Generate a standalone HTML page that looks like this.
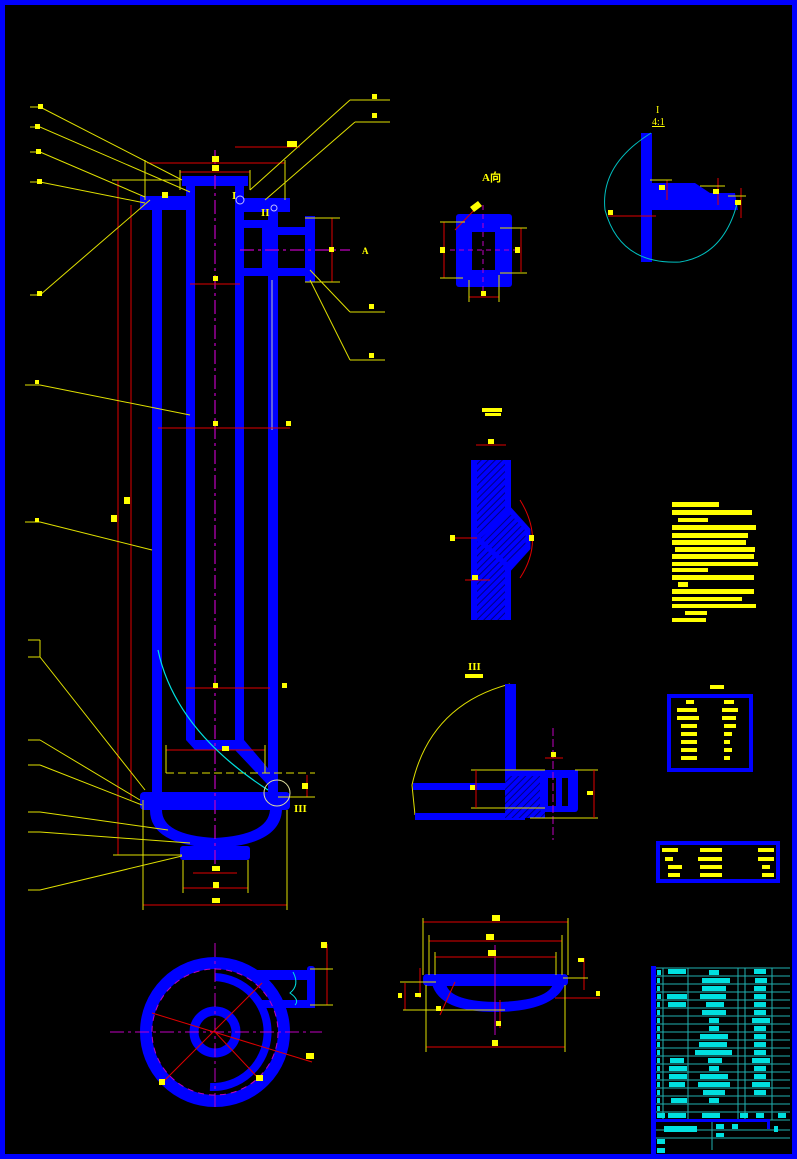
<!DOCTYPE html>
<html><head><meta charset="utf-8"><style>
html,body{margin:0;padding:0;background:#000;}
svg{display:block;}
</style></head><body>
<svg width="797" height="1159" viewBox="0 0 797 1159" xmlns="http://www.w3.org/2000/svg" font-family="Liberation Serif, serif">
<defs>
<pattern id="h" width="5" height="5" patternUnits="userSpaceOnUse" patternTransform="rotate(45)">
<rect width="5" height="5" fill="#0000ff"/><line x1="0" y1="0" x2="0" y2="5" stroke="#000080" stroke-width="2"/></pattern>
</defs>
<rect width="797" height="1159" fill="#000"/>
<rect x="2.5" y="2.5" width="792" height="1154" fill="none" stroke="#0000ff" stroke-width="5"/>

<!-- ===== MAIN VESSEL ===== -->
<g fill="#0000ff">
<!-- outer shell -->
<rect x="152" y="205" width="10" height="590"/>
<rect x="268" y="205" width="10" height="590"/>
<!-- inner tube -->
<rect x="186" y="180" width="9" height="560"/>
<rect x="235" y="180" width="9" height="560"/>
<!-- top cap -->
<rect x="182" y="176" width="66" height="10"/>
<rect x="140" y="196" width="50" height="14"/>
<rect x="240" y="198" width="50" height="14"/>
<!-- side nozzle -->
<rect x="244" y="220" width="26" height="8"/>
<rect x="244" y="268" width="26" height="8"/>
<rect x="262" y="220" width="8" height="56"/>
<rect x="278" y="227" width="36" height="8"/>
<rect x="278" y="268" width="36" height="8"/>
<rect x="305" y="216" width="10" height="66"/>
<!-- bottom cone -->
<polygon points="186,740 244,740 278,780 268,785 235,750 195,750"/>
<!-- bottom flange -->
<rect x="140" y="792" width="150" height="18" rx="4"/>
<path d="M150,810 Q150,845 215,848 Q280,845 282,810 L270,810 Q268,835 215,838 Q162,835 162,810 Z"/>
<rect x="180" y="846" width="70" height="14" rx="3"/>
</g>
<!-- center line -->
<line x1="215" y1="150" x2="215" y2="870" stroke="#c000c0" stroke-width="1.2" stroke-dasharray="14,4,3,4"/>
<line x1="240" y1="250" x2="350" y2="250" stroke="#c000c0" stroke-width="1.2" stroke-dasharray="14,4,3,4"/>
<line x1="272" y1="280" x2="272" y2="430" stroke="#c0c0c0" stroke-width="1"/>
<!-- dims red -->
<g stroke="#e00000" stroke-width="1">
<line x1="118" y1="180" x2="118" y2="855"/>
<line x1="131" y1="205" x2="131" y2="800"/>
<line x1="147" y1="163" x2="285" y2="163"/>
<line x1="180" y1="172" x2="250" y2="172"/>
<line x1="235" y1="147" x2="300" y2="147"/>
<line x1="332" y1="218" x2="332" y2="282"/>
<line x1="190" y1="284" x2="240" y2="284"/>
<line x1="158" y1="428" x2="290" y2="428"/>
<line x1="186" y1="688" x2="270" y2="688"/>
<line x1="166" y1="750" x2="265" y2="750"/>
<line x1="307" y1="775" x2="307" y2="797"/>
<line x1="143" y1="905" x2="287" y2="905"/>
<line x1="183" y1="888" x2="248" y2="888"/>
<line x1="193" y1="873" x2="237" y2="873"/>
</g>
<!-- extension & leader lines yellow -->
<g stroke="#e0e000" stroke-width="1" fill="none">
<line x1="145" y1="160" x2="145" y2="200"/><line x1="285" y1="160" x2="285" y2="200"/>
<line x1="180" y1="170" x2="180" y2="190"/><line x1="250" y1="170" x2="250" y2="190"/>
<line x1="112" y1="180" x2="180" y2="180"/>
<line x1="305" y1="218" x2="340" y2="218"/><line x1="305" y1="282" x2="340" y2="282"/>
<line x1="30" y1="107" x2="40" y2="107"/><line x1="40" y1="107" x2="182" y2="180"/>
<line x1="30" y1="127" x2="40" y2="127"/><line x1="40" y1="127" x2="190" y2="192"/>
<line x1="30" y1="152" x2="40" y2="152"/><line x1="40" y1="152" x2="145" y2="197"/>
<line x1="30" y1="182" x2="40" y2="182"/><line x1="40" y1="182" x2="145" y2="203"/>
<line x1="30" y1="295" x2="40" y2="295"/><line x1="40" y1="295" x2="150" y2="200"/>
<line x1="350" y1="100" x2="390" y2="100"/><line x1="350" y1="100" x2="250" y2="190"/>
<line x1="355" y1="122" x2="390" y2="122"/><line x1="355" y1="122" x2="265" y2="200"/>
<line x1="350" y1="312" x2="385" y2="312"/><line x1="350" y1="312" x2="310" y2="270"/>
<line x1="350" y1="360" x2="385" y2="360"/><line x1="350" y1="360" x2="310" y2="280"/>
<line x1="25" y1="385" x2="40" y2="385"/><line x1="40" y1="385" x2="190" y2="415"/>
<line x1="25" y1="522" x2="40" y2="522"/><line x1="40" y1="522" x2="152" y2="550"/>
<line x1="28" y1="640" x2="40" y2="640"/><line x1="28" y1="657" x2="40" y2="657"/><line x1="40" y1="640" x2="40" y2="657"/>
<line x1="40" y1="657" x2="145" y2="790"/>
<line x1="28" y1="740" x2="40" y2="740"/><line x1="40" y1="740" x2="140" y2="800"/>
<line x1="28" y1="765" x2="40" y2="765"/><line x1="40" y1="765" x2="142" y2="805"/>
<line x1="28" y1="812" x2="40" y2="812"/><line x1="40" y1="812" x2="168" y2="830"/>
<line x1="28" y1="832" x2="40" y2="832"/><line x1="40" y1="832" x2="190" y2="843"/>
<line x1="28" y1="890" x2="40" y2="890"/><line x1="40" y1="890" x2="182" y2="856"/>
<line x1="143" y1="800" x2="143" y2="910"/><line x1="287" y1="810" x2="287" y2="910"/>
<line x1="183" y1="860" x2="183" y2="893"/><line x1="248" y1="860" x2="248" y2="893"/>
<line x1="113" y1="855" x2="182" y2="855"/>
<line x1="166" y1="745" x2="166" y2="773"/><line x1="265" y1="745" x2="265" y2="773"/>
<line x1="166" y1="773" x2="315" y2="773" stroke-dasharray="8,4"/>
<line x1="278" y1="797" x2="315" y2="797"/>
</g>
<path d="M158,650 Q175,730 268,790" stroke="#00e0e0" fill="none" stroke-width="1.2"/>
<circle cx="277" cy="793" r="13" stroke="#e0e0a0" fill="none"/>
<circle cx="240" cy="200" r="4" stroke="#c0c0ff" fill="none"/>
<circle cx="274" cy="208" r="3" stroke="#c0c0ff" fill="none"/>
<g fill="#ffff00" font-size="11" font-weight="bold">
<text x="232" y="199">I</text><text x="261" y="216">II</text><text x="294" y="812">III</text>
<text x="362" y="254" font-size="9">A</text>
</g>
<!-- yellow tags -->
<g fill="#ffff00">
<rect x="38" y="104" width="5" height="5"/><rect x="35" y="124" width="5" height="5"/><rect x="36" y="149" width="5" height="5"/>
<rect x="37" y="179" width="5" height="5"/><rect x="37" y="291" width="5" height="5"/><rect x="372" y="94" width="5" height="5"/>
<rect x="372" y="113" width="5" height="5"/><rect x="369" y="304" width="5" height="5"/><rect x="369" y="353" width="5" height="5"/>
<rect x="212" y="156" width="7" height="6"/><rect x="212" y="165" width="7" height="6"/><rect x="287" y="141" width="10" height="6"/>
<rect x="162" y="192" width="6" height="6"/><rect x="329" y="247" width="5" height="5"/><rect x="213" y="276" width="5" height="5"/>
<rect x="213" y="421" width="5" height="5"/><rect x="286" y="421" width="5" height="5"/><rect x="124" y="497" width="6" height="7"/>
<rect x="111" y="515" width="6" height="7"/><rect x="213" y="683" width="5" height="5"/><rect x="282" y="683" width="5" height="5"/>
<rect x="222" y="746" width="7" height="5"/><rect x="302" y="783" width="6" height="6"/><rect x="212" y="866" width="8" height="5"/>
<rect x="213" y="882" width="6" height="6"/><rect x="212" y="898" width="8" height="5"/>
<rect x="35" y="380" width="4" height="4"/><rect x="35" y="518" width="4" height="4"/>
</g>

<!-- ===== CIRCULAR PLAN VIEW ===== -->
<g fill="none" stroke="#0000ff">
<circle cx="215" cy="1032" r="69" stroke-width="12"/>
<path d="M215,977 A55,55 0 1,1 210,1087" stroke-width="8"/>
<circle cx="215" cy="1032" r="21" stroke-width="9"/>
</g>
<g fill="#0000ff">
<rect x="255" y="970" width="60" height="10"/>
<rect x="262" y="1000" width="53" height="8"/>
<rect x="307" y="966" width="8" height="42" rx="3"/>
</g>
<circle cx="215" cy="1032" r="63" fill="none" stroke="#c000c0" stroke-dasharray="6,5"/>
<g stroke="#c000c0" stroke-width="1" stroke-dasharray="14,4,3,4">
<line x1="110" y1="1032" x2="322" y2="1032"/><line x1="215" y1="943" x2="215" y2="1110"/></g>
<g stroke="#e00000"><line x1="152" y1="1013" x2="312" y2="1062"/><line x1="160" y1="1085" x2="262" y2="983"/>
<line x1="215" y1="1032" x2="260" y2="1080"/><line x1="327" y1="944" x2="327" y2="1005"/></g>
<path d="M293,972 Q300,985 290,993 Q300,1000 295,1005" stroke="#00e0e0" fill="none"/>
<g stroke="#e0e000"><line x1="310" y1="969" x2="333" y2="969"/><line x1="310" y1="1005" x2="333" y2="1005"/></g>
<g fill="#ffff00"><rect x="321" y="942" width="6" height="6"/><rect x="306" y="1053" width="8" height="6"/>
<rect x="159" y="1079" width="6" height="6"/><rect x="256" y="1075" width="7" height="6"/></g>

<!-- ===== DETAIL A (top middle) ===== -->
<text x="482" y="181" fill="#ffff00" font-size="11" font-weight="bold">A向</text>
<rect x="456" y="214" width="56" height="73" rx="3" fill="#0000ff"/>
<rect x="472" y="232" width="23" height="38" fill="#000"/>
<g stroke="#c000c0" stroke-dasharray="5,4"><line x1="483" y1="205" x2="483" y2="295"/><line x1="450" y1="250" x2="516" y2="250"/></g>
<g stroke="#e00000"><line x1="444" y1="222" x2="444" y2="278"/><line x1="521" y1="228" x2="521" y2="272"/>
<line x1="469" y1="297" x2="499" y2="297"/><line x1="455" y1="230" x2="480" y2="204"/></g>
<g stroke="#e0e000"><line x1="440" y1="222" x2="465" y2="222"/><line x1="440" y1="278" x2="463" y2="278"/>
<line x1="500" y1="228" x2="527" y2="228"/><line x1="500" y1="273" x2="527" y2="273"/><line x1="469" y1="280" x2="469" y2="302"/><line x1="499" y1="275" x2="499" y2="302"/></g>
<g fill="#ffff00"><rect x="440" y="247" width="5" height="6"/><rect x="515" y="247" width="5" height="6"/><rect x="481" y="291" width="5" height="5"/>
<polygon points="470,207 478,201 482,206 474,212"/></g>

<!-- ===== DETAIL I (top right) ===== -->
<text x="656" y="113" fill="#ffff00" font-size="10">I</text>
<text x="652" y="125" fill="#ffff00" font-size="10" text-decoration="underline">4:1</text>
<rect x="641" y="133" width="11" height="129" fill="#0000ff"/>
<path d="M651,183 L695,183 L710,193 L735,193 L738,210 L651,210 Z" fill="#0000ff"/>
<path d="M651,133 Q600,165 605,210 Q620,265 680,262 Q725,255 738,200" stroke="#00c0c0" fill="none"/>
<g stroke="#e00000"><line x1="608" y1="216" x2="656" y2="216"/><line x1="667" y1="180" x2="667" y2="200"/>
<line x1="718" y1="178" x2="718" y2="205"/><line x1="741" y1="188" x2="741" y2="218"/></g>
<g stroke="#e0e000"><line x1="650" y1="180" x2="672" y2="180"/><line x1="700" y1="186" x2="725" y2="186"/><line x1="728" y1="196" x2="746" y2="196"/></g>
<g fill="#ffff00"><rect x="659" y="185" width="6" height="5"/><rect x="713" y="189" width="6" height="5"/><rect x="735" y="200" width="6" height="5"/><rect x="608" y="210" width="5" height="5"/></g>

<!-- ===== WELD DETAIL (middle) ===== -->
<rect x="482" y="408" width="20" height="4" fill="#ffff00"/><rect x="485" y="413" width="16" height="3" fill="#ffff00"/>
<rect x="471" y="460" width="40" height="160" fill="url(#h)"/>
<rect x="471" y="460" width="6" height="160" fill="#0000ff"/><rect x="505" y="460" width="6" height="160" fill="#0000ff"/>
<polygon points="477,538 510,510 528,530 528,548 510,568" fill="url(#h)" stroke="#0000ff" stroke-width="5"/>
<path d="M520,500 Q545,540 520,578" stroke="#e00000" fill="none"/>
<g stroke="#e00000"><line x1="476" y1="445" x2="506" y2="445"/><line x1="455" y1="538" x2="477" y2="538"/><line x1="465" y1="580" x2="490" y2="580"/></g>
<g fill="#ffff00"><rect x="488" y="439" width="6" height="5"/><rect x="450" y="535" width="5" height="6"/><rect x="529" y="535" width="5" height="6"/><rect x="472" y="575" width="6" height="5"/></g>

<!-- notes -->
<g fill="#ffff00">
<rect x="672" y="502" width="47" height="5"/><rect x="672" y="510" width="80" height="5"/><rect x="678" y="518" width="30" height="4"/>
<rect x="672" y="525" width="84" height="5"/><rect x="672" y="533" width="76" height="5"/><rect x="672" y="540" width="74" height="5"/>
<rect x="675" y="547" width="80" height="5"/><rect x="672" y="554" width="82" height="5"/><rect x="672" y="562" width="86" height="4"/>
<rect x="672" y="568" width="36" height="4"/><rect x="672" y="575" width="82" height="5"/><rect x="678" y="582" width="10" height="5"/>
<rect x="672" y="589" width="82" height="5"/><rect x="672" y="597" width="70" height="4"/><rect x="672" y="604" width="84" height="4"/>
<rect x="685" y="611" width="22" height="4"/><rect x="672" y="618" width="34" height="4"/>
</g>

<!-- ===== DETAIL III ===== -->
<text x="468" y="670" fill="#ffff00" font-size="11" font-weight="bold">III</text>
<rect x="465" y="674" width="18" height="4" fill="#ffff00"/>
<path d="M510,684 Q430,705 412,785 L415,815" stroke="#e0e000" fill="none"/>
<rect x="505" y="684" width="11" height="88" fill="#0000ff"/>
<rect x="413" y="783" width="95" height="7" fill="#0000ff"/>
<rect x="415" y="813" width="110" height="7" fill="#0000ff"/>
<rect x="505" y="770" width="40" height="48" fill="url(#h)"/>
<rect x="505" y="770" width="73" height="6" fill="#0000ff"/>
<rect x="540" y="770" width="38" height="42" rx="3" fill="#0000ff"/>
<rect x="548" y="778" width="8" height="28" fill="#000"/><rect x="562" y="778" width="6" height="28" fill="#000"/>
<line x1="553" y1="728" x2="553" y2="840" stroke="#c000c0" stroke-dasharray="8,3"/>
<g stroke="#e0e000"><line x1="471" y1="770" x2="545" y2="770"/><line x1="471" y1="808" x2="545" y2="808"/>
<line x1="575" y1="770" x2="598" y2="770"/><line x1="530" y1="818" x2="598" y2="818"/></g>
<g stroke="#e00000"><line x1="476" y1="770" x2="476" y2="808"/><line x1="594" y1="770" x2="594" y2="818"/><line x1="545" y1="758" x2="563" y2="758"/></g>
<g fill="#ffff00"><rect x="470" y="785" width="5" height="5"/><rect x="587" y="791" width="6" height="4"/><rect x="551" y="752" width="5" height="5"/></g>

<!-- tables -->
<rect x="710" y="685" width="14" height="4" fill="#ffff00"/>
<rect x="669" y="696" width="82" height="74" fill="none" stroke="#0000ff" stroke-width="4"/>
<g fill="#ffff00">
<rect x="686" y="700" width="8" height="4"/><rect x="724" y="700" width="10" height="4"/>
<rect x="677" y="708" width="20" height="4"/><rect x="722" y="708" width="16" height="4"/>
<rect x="677" y="716" width="22" height="4"/><rect x="722" y="716" width="14" height="4"/>
<rect x="681" y="724" width="16" height="4"/><rect x="724" y="724" width="12" height="4"/>
<rect x="681" y="732" width="16" height="4"/><rect x="724" y="732" width="8" height="4"/>
<rect x="681" y="740" width="16" height="4"/><rect x="724" y="740" width="6" height="4"/>
<rect x="681" y="748" width="16" height="4"/><rect x="724" y="748" width="8" height="4"/>
<rect x="681" y="756" width="16" height="4"/><rect x="724" y="756" width="6" height="4"/>
</g>
<rect x="658" y="843" width="120" height="38" fill="none" stroke="#0000ff" stroke-width="4"/>
<g fill="#ffff00">
<rect x="662" y="848" width="16" height="4"/><rect x="700" y="848" width="22" height="4"/><rect x="758" y="848" width="16" height="4"/>
<rect x="665" y="857" width="8" height="4"/><rect x="698" y="857" width="24" height="4"/><rect x="758" y="857" width="16" height="4"/>
<rect x="668" y="865" width="14" height="4"/><rect x="700" y="865" width="22" height="4"/><rect x="762" y="865" width="8" height="4"/>
<rect x="668" y="873" width="12" height="4"/><rect x="700" y="873" width="22" height="4"/><rect x="762" y="873" width="12" height="4"/>
</g>

<!-- ===== HEAD DETAIL ===== -->
<rect x="423" y="974" width="145" height="12" rx="4" fill="#0000ff"/>
<path d="M432,984 Q440,1013 500,1012 Q555,1010 565,984 L553,984 Q548,1000 500,1002 Q450,1002 446,984 Z" fill="#0000ff"/>
<line x1="495" y1="945" x2="495" y2="1035" stroke="#c000c0"/>
<g stroke="#e00000"><line x1="423" y1="922" x2="568" y2="922"/><line x1="429" y1="941" x2="562" y2="941"/>
<line x1="435" y1="957" x2="556" y2="957"/><line x1="426" y1="1047" x2="565" y2="1047"/>
<line x1="405" y1="983" x2="405" y2="1010"/><line x1="420" y1="968" x2="420" y2="998"/><line x1="584" y1="958" x2="584" y2="990"/>
<line x1="555" y1="998" x2="600" y2="998"/><line x1="440" y1="1015" x2="455" y2="982"/><line x1="500" y1="1000" x2="500" y2="1028"/></g>
<g stroke="#e0e000"><line x1="423" y1="918" x2="423" y2="975"/><line x1="568" y1="918" x2="568" y2="975"/>
<line x1="429" y1="935" x2="429" y2="975"/><line x1="562" y1="935" x2="562" y2="975"/>
<line x1="435" y1="952" x2="435" y2="975"/><line x1="556" y1="952" x2="556" y2="975"/>
<line x1="426" y1="985" x2="426" y2="1052"/><line x1="565" y1="985" x2="565" y2="1052"/>
<line x1="400" y1="982" x2="436" y2="982"/><line x1="403" y1="1010" x2="505" y2="1010"/><line x1="563" y1="978" x2="588" y2="978"/></g>
<g fill="#ffff00"><rect x="492" y="915" width="8" height="6"/><rect x="486" y="934" width="8" height="6"/><rect x="488" y="950" width="8" height="6"/>
<rect x="492" y="1040" width="6" height="6"/><rect x="496" y="1021" width="5" height="5"/><rect x="415" y="993" width="6" height="4"/>
<rect x="398" y="993" width="4" height="5"/><rect x="578" y="958" width="6" height="4"/><rect x="596" y="991" width="4" height="5"/><rect x="436" y="1006" width="5" height="5"/></g>

<!-- ===== TITLE BLOCK ===== -->
<rect x="651" y="966" width="5" height="190" fill="#0000ff"/>
<g stroke="#20b0b0" stroke-width="1">
<line x1="656" y1="968" x2="790" y2="968"/>
<line x1="656" y1="976" x2="790" y2="976"/><line x1="656" y1="984" x2="790" y2="984"/><line x1="656" y1="992" x2="790" y2="992"/>
<line x1="656" y1="1000" x2="790" y2="1000"/><line x1="656" y1="1008" x2="790" y2="1008"/><line x1="656" y1="1016" x2="790" y2="1016"/>
<line x1="656" y1="1024" x2="790" y2="1024"/><line x1="656" y1="1032" x2="790" y2="1032"/><line x1="656" y1="1040" x2="790" y2="1040"/>
<line x1="656" y1="1048" x2="790" y2="1048"/><line x1="656" y1="1056" x2="790" y2="1056"/><line x1="656" y1="1064" x2="790" y2="1064"/>
<line x1="656" y1="1072" x2="790" y2="1072"/><line x1="656" y1="1080" x2="790" y2="1080"/><line x1="656" y1="1088" x2="790" y2="1088"/>
<line x1="656" y1="1096" x2="790" y2="1096"/><line x1="656" y1="1104" x2="790" y2="1104"/><line x1="656" y1="1112" x2="790" y2="1112"/>
<line x1="656" y1="1120" x2="790" y2="1120"/><line x1="656" y1="1130" x2="790" y2="1130"/><line x1="656" y1="1138" x2="790" y2="1138"/>
<line x1="663" y1="968" x2="663" y2="1120"/><line x1="688" y1="968" x2="688" y2="1120"/><line x1="738" y1="968" x2="738" y2="1120"/>
<line x1="745" y1="968" x2="745" y2="1120"/><line x1="772" y1="968" x2="772" y2="1120"/><line x1="712" y1="1120" x2="712" y2="1150"/>
</g>
<g fill="#00e0e0">
<rect x="668" y="969" width="18" height="5"/><rect x="709" y="970" width="10" height="5"/><rect x="754" y="969" width="12" height="5"/>
<rect x="702" y="978" width="28" height="5"/><rect x="702" y="986" width="24" height="5"/><rect x="667" y="994" width="20" height="5"/>
<rect x="700" y="994" width="26" height="5"/><rect x="668" y="1002" width="18" height="5"/><rect x="706" y="1002" width="18" height="5"/>
<rect x="702" y="1010" width="24" height="5"/><rect x="709" y="1018" width="10" height="5"/><rect x="709" y="1026" width="10" height="5"/>
<rect x="700" y="1034" width="28" height="5"/><rect x="699" y="1042" width="28" height="5"/><rect x="695" y="1050" width="37" height="5"/>
<rect x="670" y="1058" width="14" height="5"/><rect x="708" y="1058" width="14" height="5"/><rect x="669" y="1066" width="18" height="5"/>
<rect x="709" y="1066" width="10" height="5"/><rect x="669" y="1074" width="18" height="5"/><rect x="700" y="1074" width="28" height="5"/>
<rect x="669" y="1082" width="16" height="5"/><rect x="698" y="1082" width="32" height="5"/><rect x="703" y="1090" width="22" height="5"/>
<rect x="671" y="1098" width="16" height="5"/><rect x="709" y="1098" width="10" height="5"/>
<rect x="755" y="978" width="12" height="5"/><rect x="754" y="986" width="12" height="5"/><rect x="754" y="994" width="12" height="5"/>
<rect x="754" y="1002" width="12" height="5"/><rect x="754" y="1010" width="12" height="5"/><rect x="752" y="1018" width="18" height="5"/>
<rect x="754" y="1026" width="12" height="5"/><rect x="754" y="1034" width="12" height="5"/><rect x="754" y="1042" width="12" height="5"/>
<rect x="754" y="1050" width="12" height="5"/><rect x="752" y="1058" width="18" height="5"/><rect x="754" y="1066" width="12" height="5"/>
<rect x="754" y="1074" width="12" height="5"/><rect x="752" y="1082" width="18" height="5"/><rect x="754" y="1090" width="12" height="5"/>
<rect x="657" y="1113" width="8" height="5"/><rect x="668" y="1113" width="18" height="5"/><rect x="702" y="1113" width="18" height="5"/>
<rect x="740" y="1113" width="8" height="5"/><rect x="756" y="1113" width="8" height="5"/><rect x="778" y="1113" width="8" height="5"/>
<rect x="664" y="1126" width="33" height="6"/><rect x="716" y="1124" width="8" height="5"/><rect x="732" y="1124" width="6" height="5"/>
<rect x="716" y="1133" width="8" height="4"/><rect x="657" y="1139" width="8" height="5"/><rect x="657" y="1148" width="8" height="5"/>
<rect x="774" y="1126" width="4" height="6"/>
</g>
<g fill="#00e0e0"><rect x="657" y="970" width="4" height="5"/><rect x="657" y="978" width="3" height="5"/><rect x="657" y="986" width="3" height="5"/>
<rect x="657" y="994" width="4" height="5"/><rect x="657" y="1002" width="3" height="5"/><rect x="657" y="1010" width="3" height="5"/>
<rect x="657" y="1018" width="3" height="5"/><rect x="657" y="1026" width="3" height="5"/><rect x="657" y="1034" width="3" height="5"/>
<rect x="657" y="1042" width="3" height="5"/><rect x="657" y="1050" width="3" height="5"/><rect x="657" y="1058" width="3" height="5"/>
<rect x="657" y="1066" width="3" height="5"/><rect x="657" y="1074" width="3" height="5"/><rect x="657" y="1082" width="3" height="5"/>
<rect x="657" y="1090" width="3" height="5"/><rect x="657" y="1098" width="3" height="5"/><rect x="657" y="1106" width="3" height="5"/></g>
<rect x="651" y="1119" width="116" height="3" fill="#0000ff"/>
<rect x="767" y="1119" width="3" height="10" fill="#0000ff"/>
</svg>
</body></html>
